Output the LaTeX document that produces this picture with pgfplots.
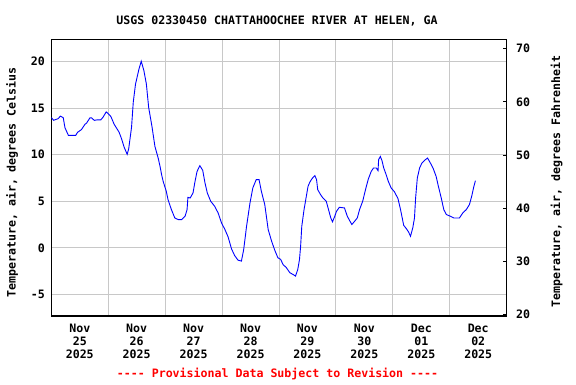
\documentclass[border=0pt]{standalone}
\usepackage{fontspec}
\setmonofont{DejaVu Sans Mono}
\usepackage{pgfplots}
\pgfplotsset{compat=1.18}
\definecolor{gridc}{RGB}{200,200,200}
\newcommand\fs{\ttfamily\bfseries\fontsize{11.6}{12.8}\selectfont}
\begin{document}
\begin{tikzpicture}[x=1pt,y=1pt]
\path[use as bounding box] (0,0) rectangle (576,384);
\begin{axis}[
  at={(51.3pt,68pt)}, anchor=south west,
  scale only axis, width=455.4pt, height=276.7pt,
  xmin=0, xmax=8, ymin=-7.33, ymax=22.4,
  xtick={0.5,1.5,2.5,3.5,4.5,5.5,6.5,7.5},
  xticklabels={{Nov\\25\\2025},{Nov\\26\\2025},{Nov\\27\\2025},{Nov\\28\\2025},{Nov\\29\\2025},{Nov\\30\\2025},{Dec\\01\\2025},{Dec\\02\\2025}},
  minor xtick={1,2,3,4,5,6,7},
  ytick={-5,0,5,10,15,20},
  yticklabels={-5,0,5,10,15,20},
  xmajorgrids=false, xminorgrids=true, ymajorgrids=true,
  major tick length=0pt, minor tick length=0pt,
  grid style={draw=gridc, line width=0.9pt},
  minor grid style={draw=gridc, line width=0.9pt},
  axis line style={line width=1.3pt},
  tick label style={font=\fs},
  xticklabel style={align=center, yshift=-5pt},
  yticklabel style={xshift=-3pt},
  ylabel={Temperature, air, degrees Celsius},
  ylabel style={font=\fs, at={(axis description cs:-0.0863,0.4825)}, anchor=center},
]
\addplot[color={rgb,255:red,0;green,0;blue,255}, line width=0.9pt] table {
0.00 14.0
0.04 13.7
0.12 13.87
0.16 14.15
0.21 13.97
0.24 12.9
0.30 12.08
0.43 12.08
0.46 12.4
0.53 12.7
0.59 13.26
0.62 13.4
0.68 13.97
0.71 13.95
0.755 13.69
0.81 13.75
0.87 13.75
0.91 14.04
0.965 14.6
1.00 14.4
1.047 14.1
1.105 13.26
1.19 12.43
1.235 11.7
1.28 10.8
1.333 10.04
1.36 10.65
1.41 12.97
1.44 15.65
1.48 17.6
1.54 19.2
1.58 20.04
1.626 19.05
1.67 17.6
1.71 15.1
1.77 12.97
1.82 10.9
1.88 9.58
1.91 8.75
1.94 7.79
1.965 7.14
2.02 6.07
2.05 5.18
2.11 4.1
2.17 3.2
2.23 3.03
2.29 3.03
2.35 3.39
2.385 4.1
2.40 5.42
2.44 5.35
2.49 5.9
2.52 6.97
2.56 8.2
2.61 8.82
2.66 8.32
2.70 6.97
2.74 5.9
2.80 5.0
2.87 4.46
2.93 3.75
2.99 2.68
3.05 1.96
3.105 1.18
3.165 -0.1
3.22 -0.83
3.28 -1.33
3.34 -1.43
3.38 -0.18
3.43 2.3
3.49 4.8
3.54 6.43
3.60 7.32
3.65 7.32
3.69 6.07
3.75 4.64
3.81 1.96
3.87 0.71
3.925 -0.25
3.98 -1.07
4.03 -1.25
4.07 -1.79
4.13 -2.14
4.19 -2.68
4.245 -2.86
4.29 -3.04
4.33 -2.33
4.36 -1.25
4.38 0.18
4.40 2.3
4.44 4.1
4.48 5.53
4.51 6.6
4.54 7.03
4.58 7.43
4.63 7.75
4.66 7.32
4.68 6.25
4.73 5.71
4.77 5.36
4.83 5.0
4.87 4.1
4.91 3.2
4.94 2.79
4.98 3.39
5.01 3.92
5.06 4.35
5.15 4.28
5.20 3.39
5.24 2.93
5.28 2.5
5.33 2.86
5.375 3.2
5.415 4.1
5.47 5.0
5.53 6.5
5.57 7.4
5.62 8.2
5.66 8.57
5.71 8.57
5.74 8.28
5.75 9.46
5.78 9.82
5.81 9.35
5.84 8.57
5.88 7.9
5.92 7.14
5.97 6.43
6.03 6.0
6.09 5.28
6.135 4.1
6.165 3.2
6.19 2.42
6.235 2.07
6.275 1.71
6.31 1.24
6.35 2.14
6.38 3.2
6.40 5.36
6.43 7.5
6.47 8.57
6.51 9.1
6.57 9.46
6.61 9.64
6.66 9.1
6.71 8.5
6.76 7.68
6.80 6.6
6.85 5.36
6.895 4.1
6.94 3.57
7.01 3.39
7.07 3.2
7.17 3.2
7.23 3.75
7.29 4.1
7.345 4.64
7.385 5.53
7.42 6.5
7.45 7.21
};
\end{axis}
\begin{axis}[
  at={(51.3pt,68pt)}, anchor=south west,
  scale only axis, width=455.4pt, height=276.7pt,
  xmin=0, xmax=8, ymin=19.75, ymax=71.75,
  axis x line=none, axis y line*=right,
  ytick={20,30,40,50,60,70},
  yticklabels={20,30,40,50,60,70},
  tick align=inside, major tick length=4pt,
  tick style={black, line width=0.9pt},
  axis line style={line width=1.3pt},
  tick label style={font=\fs},
  yticklabel style={anchor=west, xshift=6pt},
  ylabel={Temperature, air, degrees Fahrenheit},
  ylabel style={font=\fs, at={(axis description cs:1.1098,0.4854)}, anchor=center, rotate=0},
]
\end{axis}
\node[font=\fs] at (277,363.3) {USGS 02330450 CHATTAHOOCHEE RIVER AT HELEN, GA};
\node[font=\fs, text=red] at (277.5,9.7) {---- Provisional Data Subject to Revision ----};
\end{tikzpicture}
\end{document}
